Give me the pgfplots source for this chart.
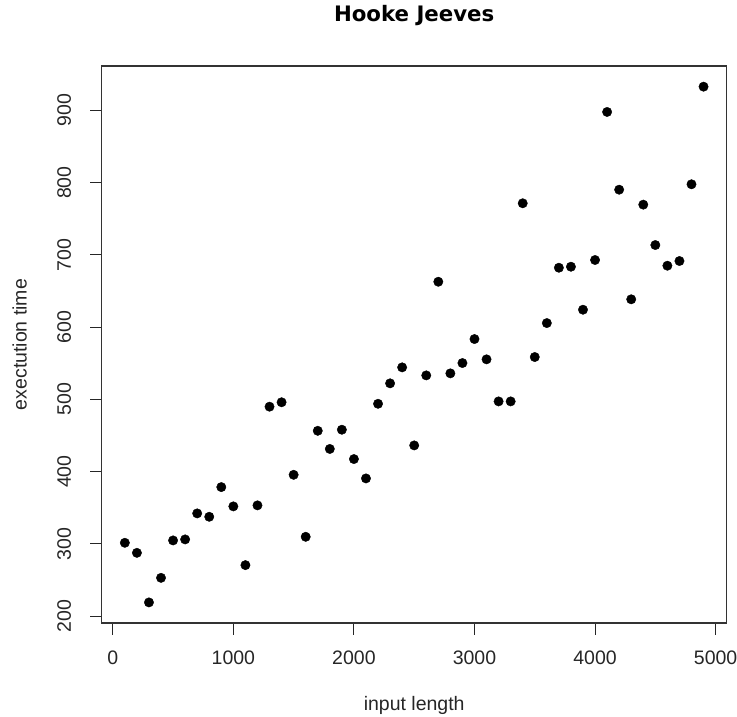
\documentclass[border=0pt]{standalone}
\usepackage{pgfplots}
\pgfplotsset{compat=1.18}
\usepackage{fontspec}
\setmainfont{Liberation Sans}
\newfontfamily\titlefont{DejaVu Sans}
\begin{document}
\fontsize{19.5bp}{23bp}\selectfont
\begin{tikzpicture}
\path[use as bounding box] (0,0) rectangle (737bp,717bp);
\begin{axis}[
  at={(101.7bp,94bp)}, anchor=south west,
  width=625bp, height=557bp, scale only axis,
  xmin=-92, xmax=5092, ymin=190.5, ymax=961.4,
  xtick={0,1000,2000,3000,4000,5000},
  ytick={200,300,400,500,600,700,800,900},
  xtick pos=left, ytick pos=left,
  axis line style={black!80, line width=1.1bp},
  tick align=outside, major tick length=11.5bp,
  tick style={black!85, line width=0.9bp},
  /pgf/number format/assume math mode=true,
  scaled ticks=false,
  xticklabel={\pgfmathprintnumber[fixed,precision=0,set thousands separator={}]{\tick}},
  yticklabel={\pgfmathprintnumber[fixed,precision=0,set thousands separator={}]{\tick}},
  xticklabel style={anchor=base, inner sep=0pt, text=black!85},
  yticklabel style={rotate=90, anchor=base, inner sep=0pt, text=black!85},
  xticklabel shift=29.5bp,
  yticklabel shift=19.2bp,
  title={Hooke Jeeves},
  title style={at={(axis description cs:0.5,1.0695)}, anchor=base, inner sep=0pt,
    font=\titlefont\bfseries\fontsize{21.3bp}{25bp}\selectfont},
  xlabel={input length},
  ylabel={exectution time},
  xlabel style={at={(axis description cs:0.5,-0.1562)}, anchor=base, inner sep=0pt, text=black!85},
  ylabel style={at={(axis description cs:-0.12,0.5)}, anchor=base, inner sep=0pt, text=black!85},
  clip=false,
]
\addplot[only marks, mark=*, mark size=4.7bp, black] coordinates {
(100,301.5) (200,287.6) (300,219) (400,253) (500,304.8) (600,306.2)
(700,342.2) (800,337.5) (900,378.6) (1000,351.9) (1100,270.6) (1200,353.3)
(1300,489.9) (1400,496) (1500,395.6) (1600,309.8) (1700,456.5) (1800,431.4)
(1900,458) (2000,417.4) (2100,390.6) (2200,493.9) (2300,522.2) (2400,544.3)
(2500,436.3) (2600,533.2) (2700,662.8) (2800,536) (2900,550.3) (3000,583.5)
(3100,555.4) (3200,497.2) (3300,497.2) (3400,771.4) (3500,558.6) (3600,605.6)
(3700,682.2) (3800,683.6) (3900,624.1) (4000,692.9) (4100,897.8) (4200,790.2)
(4300,638.5) (4400,769.5) (4500,713.6) (4600,685) (4700,691.5) (4800,797.7)
(4900,932.8)
};
\end{axis}
\end{tikzpicture}
\end{document}
